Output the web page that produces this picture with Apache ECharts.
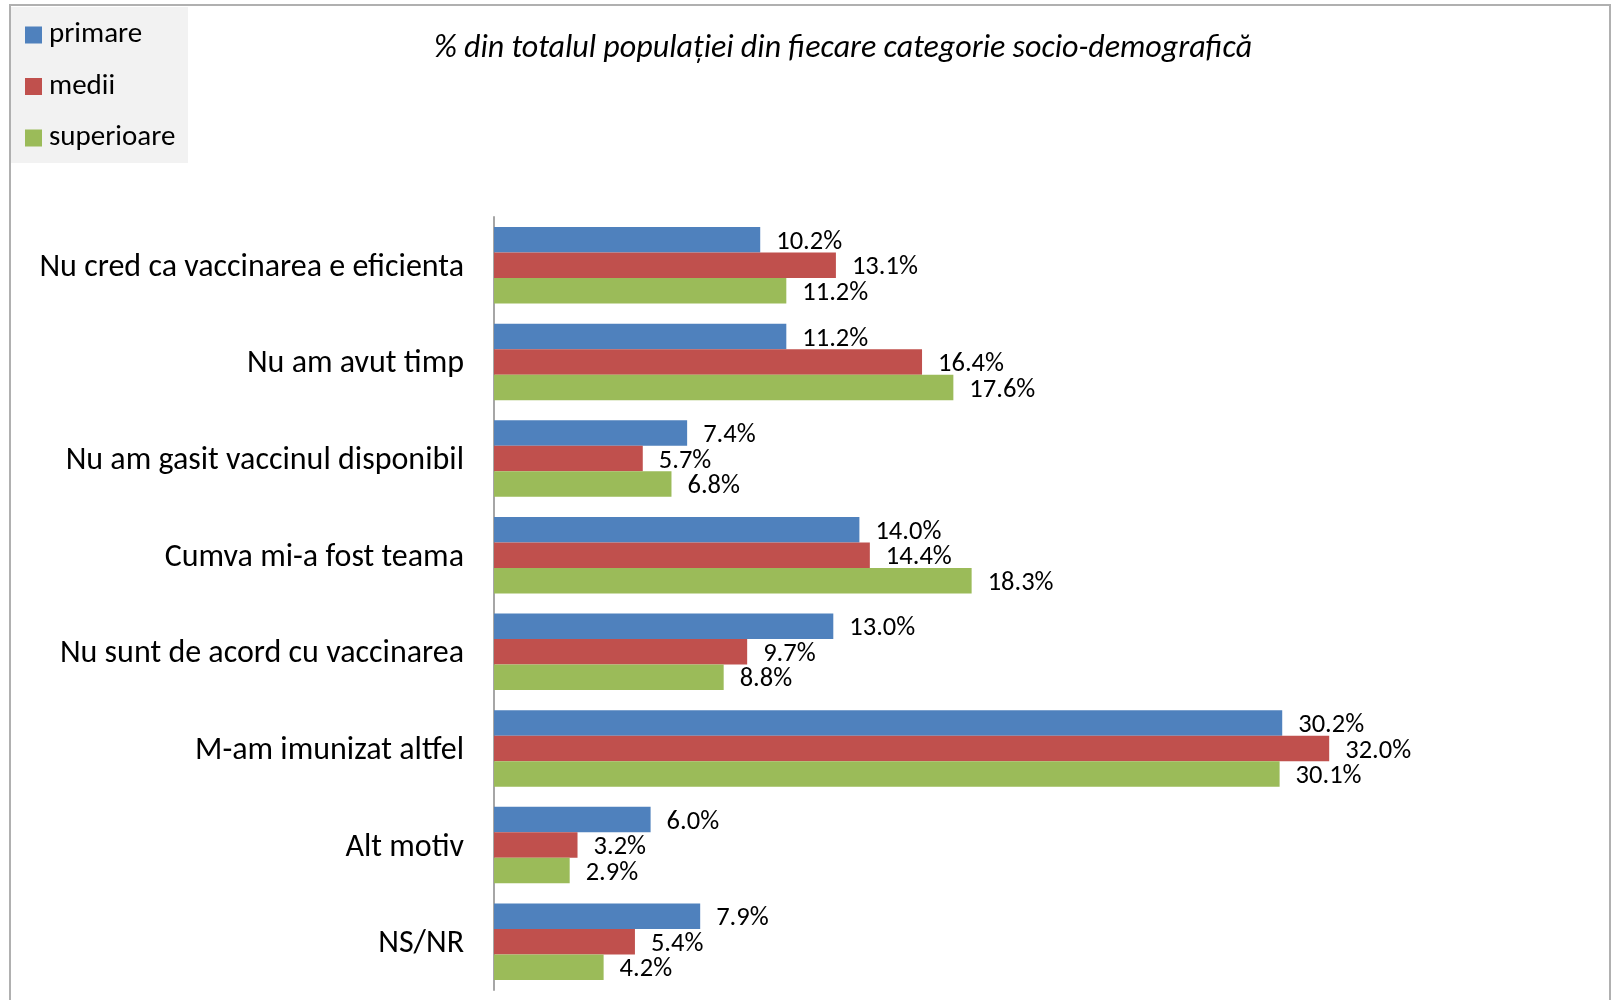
<!DOCTYPE html>
<html><head><meta charset="utf-8">
<script src="https://cdn.jsdelivr.net/npm/echarts@6/dist/echarts.min.js"></script>
<style>html,body{margin:0;padding:0;background:#fff}#c{width:1612px;height:1000px}</style>
</head><body><div id="c"></div>
<script>
const categories = ["Nu cred ca vaccinarea e eficienta","Nu am avut timp","Nu am gasit vaccinul disponibil","Cumva mi-a fost teama","Nu sunt de acord cu vaccinarea","M-am imunizat altfel","Alt motiv","NS/NR"];
const seriesNames = ["primare","medii","superioare"];
const primare = [10.2, 11.2, 7.4, 14.0, 13.0, 30.2, 6.0, 7.9];
const medii = [13.1, 16.4, 5.7, 14.4, 9.7, 32.0, 3.2, 5.4];
const superioare = [11.2, 17.6, 6.8, 18.3, 8.8, 30.1, 2.9, 4.2];
const colors = ["#4f81bd","#c0504d","#9bbb59"];
const titleText = "% din totalul populației din fiecare categorie socio-demografică";

const FONT = "Carlito, 'Noto Sans', sans-serif";
const chart = echarts.init(document.getElementById('c'));
const values = [primare, medii, superioare];
chart.setOption({
  animation: false,
  textStyle: {fontFamily: FONT},
  title: {text: titleText, left: 838, top: 44, textAlign: 'center', textVerticalAlign: 'middle',
    textStyle: {fontFamily: FONT, fontStyle: 'italic', fontWeight: 'normal', fontSize: 32, color: '#000'}},
  graphic: [
    {type: 'rect', shape: {x: 10, y: 5, width: 1600, height: 1010}, style: {fill: 'none', stroke: '#b0b0b0', lineWidth: 2}, z: -10},
    {type: 'rect', shape: {x: 11, y: 7, width: 177, height: 156}, style: {fill: '#f2f2f2'}, z: -5}
  ],
  legend: {
    orient: 'vertical', left: 25, top: 20, padding: 0, itemGap: 21.5,
    itemWidth: 17, itemHeight: 17, icon: 'rect',
    textStyle: {fontFamily: FONT, fontSize: 29, color: '#000', lineHeight: 30, padding: [0,0,0,2]},
    data: seriesNames
  },
  grid: {left: 494, right: 74, top: 217, bottom: 10, outerBoundsMode: 'none', containLabel: false},
  xAxis: {type: 'value', min: 0, max: 40, show: false, splitLine: {show: false}},
  yAxis: {type: 'category', data: categories, inverse: true,
    axisLine: {show: true, lineStyle: {color: '#a6a6a6', width: 2}},
    axisTick: {show: false},
    axisLabel: {color: '#000', margin: 30, formatter: v => '{a|' + v + '}',
      rich: {a: {fontFamily: FONT, fontSize: 32, color: '#000', padding: [5, 0, 0, 0]}}}},
  series: seriesNames.map((n, i) => ({
    name: n, type: 'bar', data: values[i], barWidth: 25.5, barGap: '0%',
    itemStyle: {color: colors[i]},
    label: {show: true, position: 'right', distance: 16, offset: [0, 2.5], fontFamily: FONT, fontSize: 26.5, color: '#000',
      formatter: p => p.value.toFixed(1) + '%'}
  }))
});
</script></body></html>
